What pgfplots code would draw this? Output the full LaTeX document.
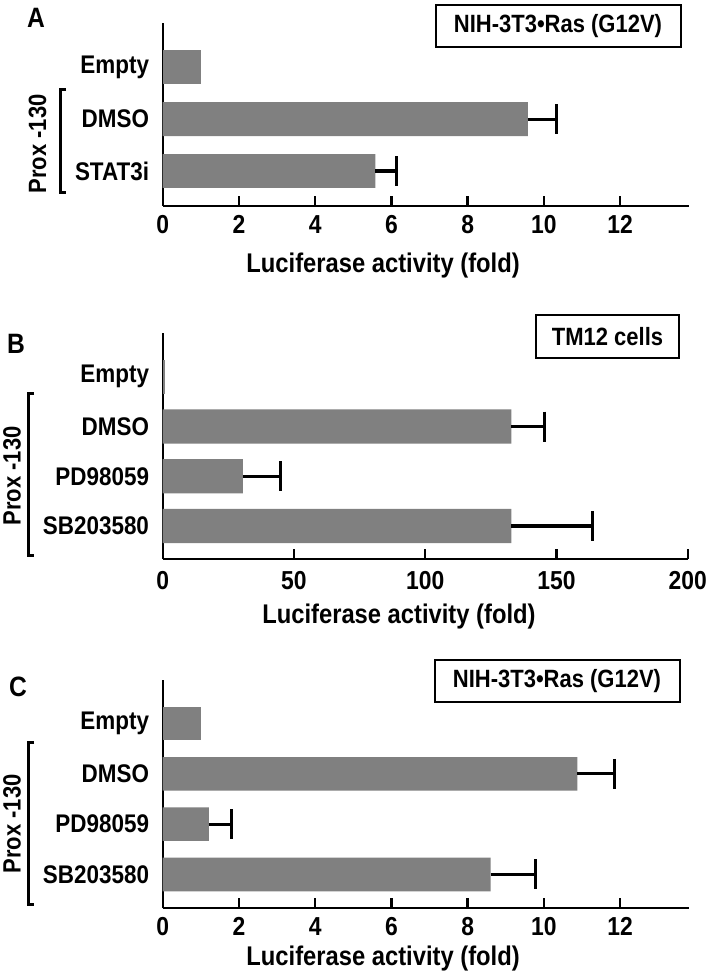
\documentclass[border=0pt]{standalone}
\usepackage{fontspec}
\setmainfont{Liberation Sans}[FakeStretch=0.88]
\usepackage{pgfplots}
\pgfplotsset{compat=1.18}
\usepackage{pgfplotstable}

% panel A (Empty plotted separately, no error bar)
\pgfplotstableread{
pos val err
1 9.58 0.76
0 5.58 0.55
}\dataA
\pgfplotstableread{
pos val err
2 132.8 12.5
1 30.5 14.3
0 132.8 31.0
}\dataB
\pgfplotstableread{
pos val err
2 10.88 0.98
1 1.21 0.60
0 8.60 1.19
}\dataC

\pgfplotsset{
  panel/.style={
    scale only axis, xbar, anchor=south west,
    axis x line=bottom, axis y line=left,
    axis line style={-, line width=2.3bp, black},
    xmin=0,
    xtick align=inside,
    major tick length=10bp,
    xtick style={line width=2.3bp, black},
    ytick style={draw=none},
    /pgf/number format/assume math mode=true,
    xticklabel style={font=\fontsize{26bp}{30bp}\selectfont\bfseries, anchor=center, inner sep=0pt},
    yticklabel style={font=\fontsize{25.5bp}{30bp}\selectfont\bfseries, anchor=east, inner sep=0pt, xshift=-8.5bp},
    xlabel={Luciferase activity (fold)},
    xlabel style={font=\fontsize{27bp}{31bp}\selectfont\bfseries, anchor=base, inner sep=0pt},
    clip=false,
  },
  barstyle/.style={fill=gray, draw=none, bar shift=0pt},
  errstyle/.style={error bars/.cd, x dir=plus, x explicit,
    error bar style={draw=black, line width=3.2bp},
    error mark options={draw=black, line width=3.2bp, mark size=15bp, rotate=90}},
}

\begin{document}
\begin{tikzpicture}
\useasboundingbox (0,0) rectangle (709bp,-971bp);

% ---------- Panel A ----------
\begin{axis}[panel, at={(162.7bp,-205.7bp)}, width=526bp, height=183bp,
  xmax=13.8, ymin=-0.669, ymax=2.859, bar width=0.655,
  xtick={0,2,...,12}, ytick={0,1,2}, yticklabels={STAT3i,DMSO,Empty},
  xticklabel style={yshift=-19bp},
  xlabel style={at={(rel axis cs:0.419,0)}, yshift=-66.3bp}]
\addplot[barstyle] coordinates {(1.01,2)};
\addplot[barstyle, errstyle] table[x=val, y=pos, x error=err] {\dataA};
\end{axis}

% ---------- Panel B ----------
\begin{axis}[panel, at={(162.7bp,-559bp)}, width=525bp, height=226bp,
  xmax=200, ymin=-0.663, ymax=3.879, bar width=0.69,
  xtick={0,50,...,200}, ytick={0,1,2,3}, yticklabels={SB203580,PD98059,DMSO,Empty},
  xticklabel style={yshift=-21.5bp},
  xlabel style={at={(rel axis cs:0.45,0)}, yshift=-64bp}]
\addplot[barstyle] coordinates {(1.0,3)};
\addplot[barstyle, errstyle] table[x=val, y=pos, x error=err] {\dataB};
\end{axis}

% ---------- Panel C ----------
\begin{axis}[panel, at={(162.7bp,-908bp)}, width=526bp, height=228bp,
  xmax=13.8, ymin=-0.666, ymax=3.864, bar width=0.666,
  xtick={0,2,...,12}, ytick={0,1,2,3}, yticklabels={SB203580,PD98059,DMSO,Empty},
  xticklabel style={yshift=-18.5bp},
  xlabel style={at={(rel axis cs:0.419,0)}, yshift=-57bp}]
\addplot[barstyle] coordinates {(1.01,3)};
\addplot[barstyle, errstyle] table[x=val, y=pos, x error=err] {\dataC};
\end{axis}

% panel letters
\begin{scope}[every node/.style={font=\fontsize{28bp}{32bp}\selectfont\bfseries, inner sep=0pt}]
\node at (36bp,-18bp) {A};
\node at (16bp,-344bp) {B};
\node at (18bp,-687bp) {C};
\end{scope}

% boxed titles
\begin{scope}[every node/.style={draw, line width=2bp, inner sep=0pt, font=\fontsize{25bp}{29bp}\selectfont\bfseries}]
\node[minimum width=245bp, minimum height=42bp] at (558bp,-26bp) {NIH-3T3•Ras (G12V)};
\node[minimum width=143bp, minimum height=43bp] at (607.5bp,-336.5bp) {TM12 cells};
\node[minimum width=245bp, minimum height=42bp] at (557bp,-681bp) {NIH-3T3•Ras (G12V)};
\end{scope}

% brackets
\draw[line width=3bp] (66bp,-89.5bp) -- (60bp,-89.5bp) -- (60bp,-192bp) -- (66bp,-192bp);
\draw[line width=3bp] (34bp,-393bp) -- (28.3bp,-393bp) -- (28.3bp,-555bp) -- (34bp,-555bp);
\draw[line width=3bp] (34bp,-742.5bp) -- (28.3bp,-742.5bp) -- (28.3bp,-904.5bp) -- (34bp,-904.5bp);

% Prox -130 labels
\begin{scope}[every node/.style={rotate=90, inner sep=0pt, font=\fontsize{25bp}{29bp}\selectfont\bfseries}]
\node at (37.5bp,-144bp) {Prox -130};
\node at (12bp,-476bp) {Prox -130};
\node at (12bp,-824bp) {Prox -130};
\end{scope}
\end{tikzpicture}
\end{document}
